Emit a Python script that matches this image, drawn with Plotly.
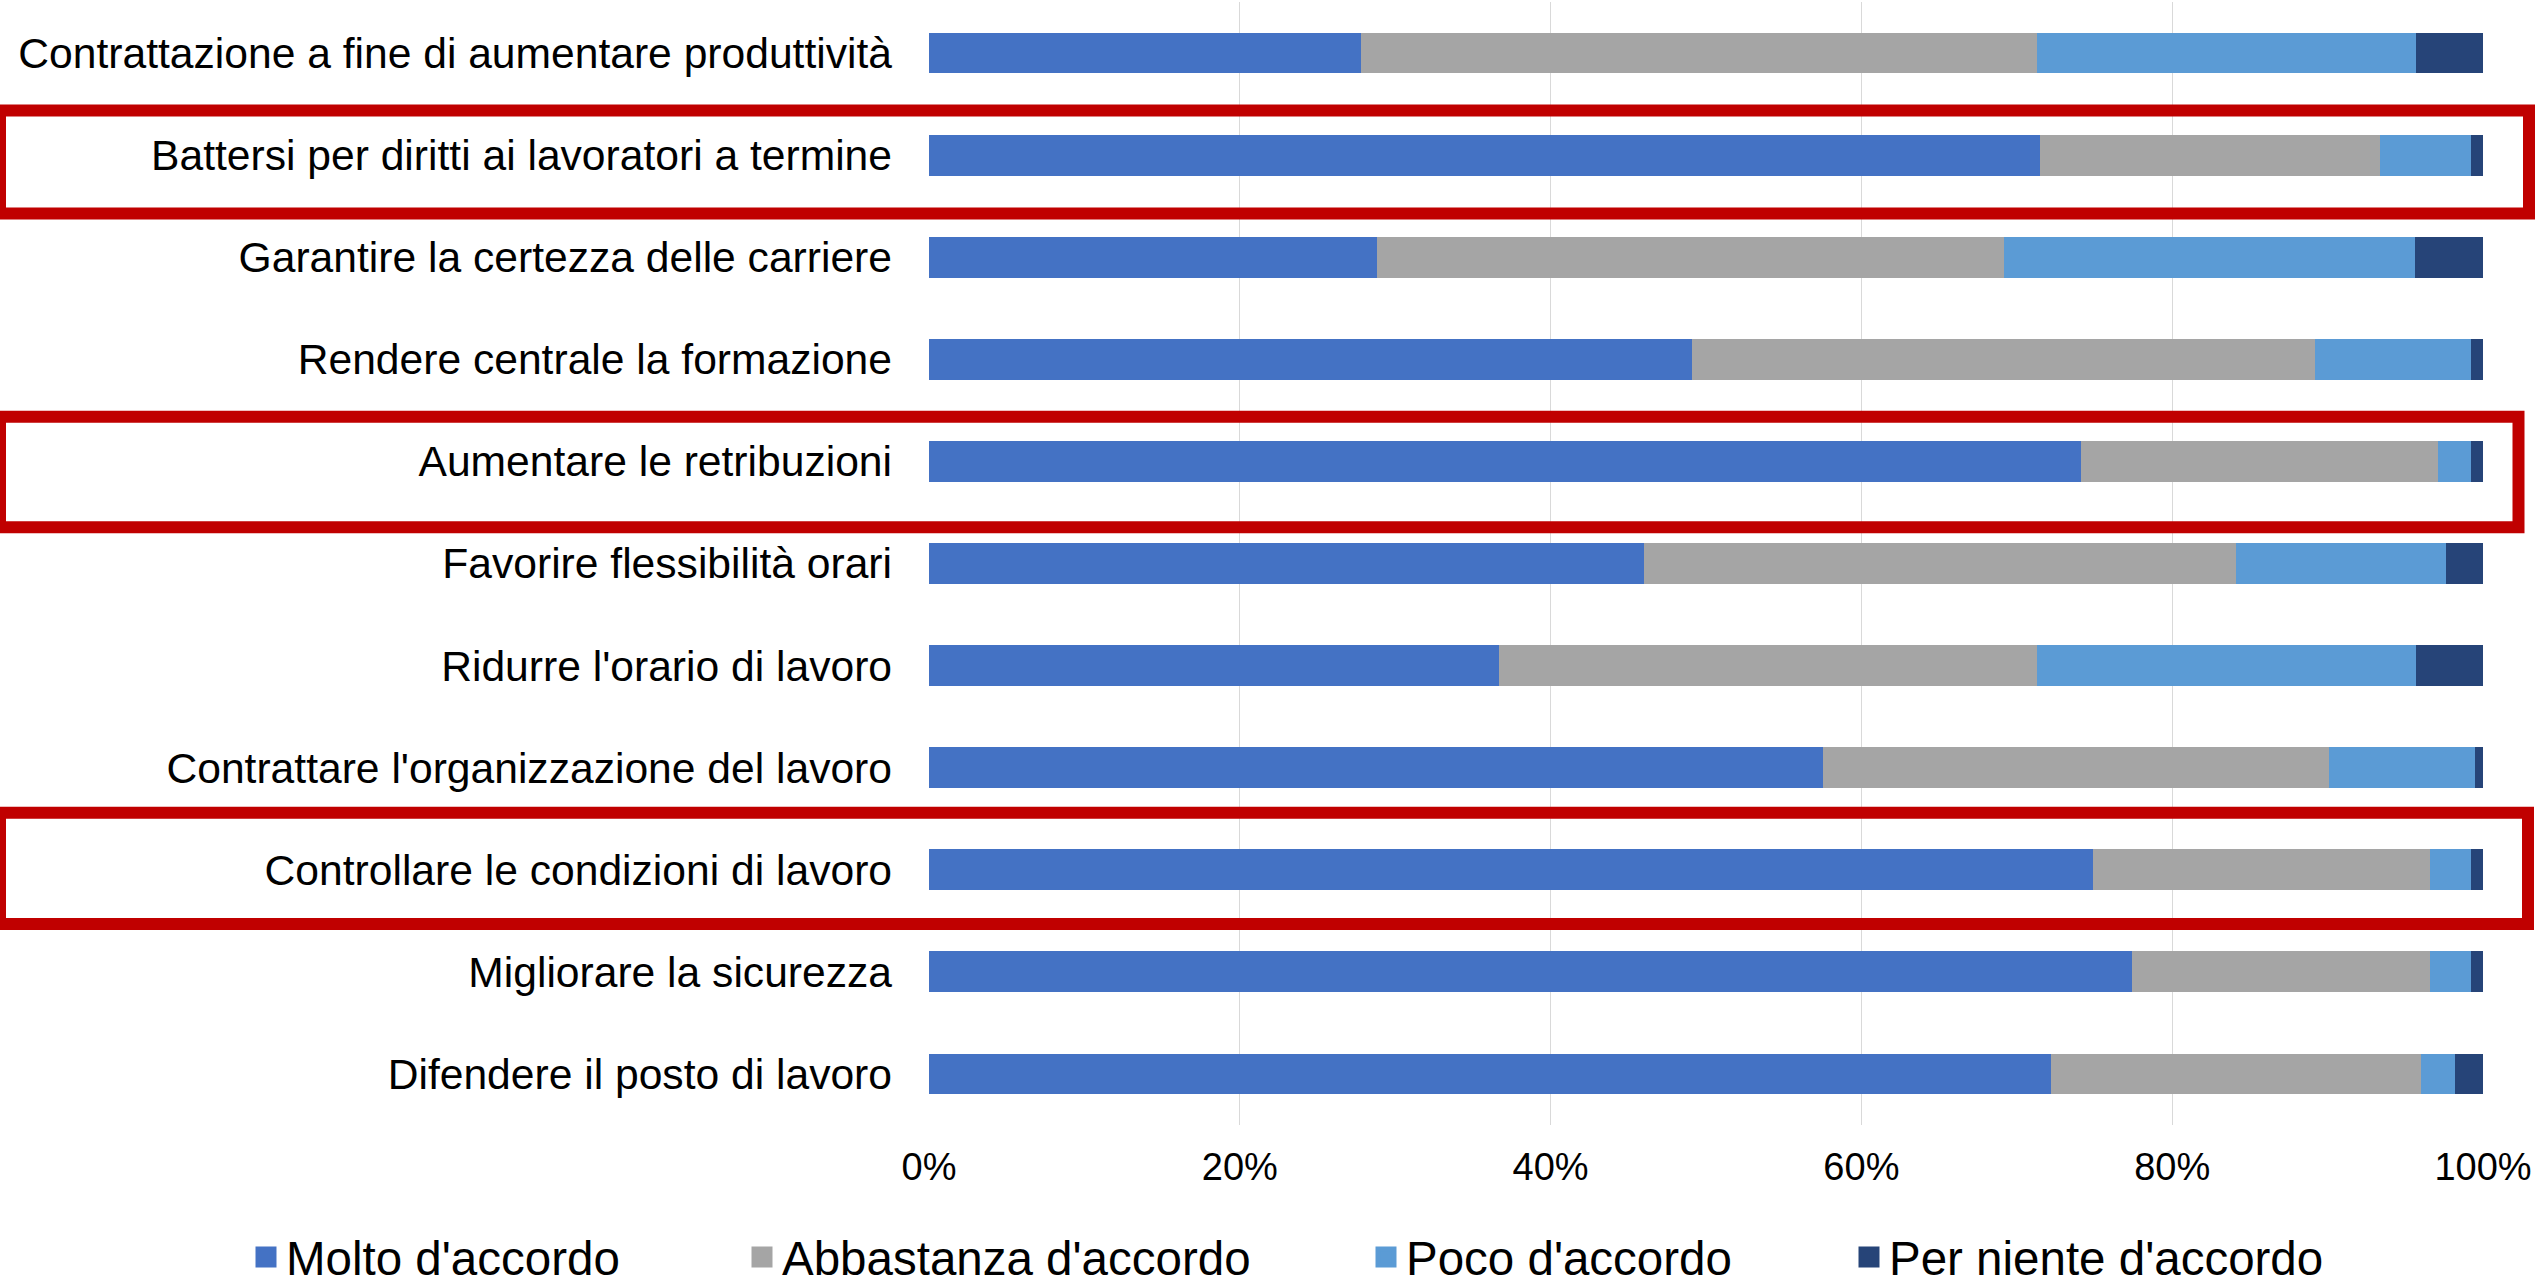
import plotly.graph_objects as go

categories = [
    "Contrattazione a fine di aumentare produttività",
    "Battersi per diritti ai lavoratori a termine",
    "Garantire la certezza delle carriere",
    "Rendere centrale la formazione",
    "Aumentare le retribuzioni",
    "Favorire flessibilità orari",
    "Ridurre l'orario di lavoro",
    "Contrattare l'organizzazione del lavoro",
    "Controllare le condizioni di lavoro",
    "Migliorare la sicurezza",
    "Difendere il posto di lavoro",
]
molto = [27.8, 71.5, 28.8, 49.1, 74.1, 46.0, 36.7, 57.5, 74.9, 77.4, 72.2]
abbastanza = [43.5, 21.9, 40.4, 40.1, 23.0, 38.1, 34.6, 32.6, 21.7, 19.2, 23.8]
poco = [24.4, 5.8, 26.4, 10.0, 2.1, 13.5, 24.4, 9.4, 2.6, 2.6, 2.2]
per_niente = [4.3, 0.8, 4.4, 0.8, 0.8, 2.4, 4.3, 0.5, 0.8, 0.8, 1.8]

series_names = ["Molto d'accordo", "Abbastanza d'accordo", "Poco d'accordo", "Per niente d'accordo"]
series_values = [molto, abbastanza, poco, per_niente]
colors = ["#4472C4", "#A5A5A5", "#5B9BD5", "#264478"]

highlighted = ["Battersi per diritti ai lavoratori a termine",
               "Aumentare le retribuzioni",
               "Controllare le condizioni di lavoro"]

W, H = 2542, 1280
ML, MR, MT, MB = 929, 59, 2, 155
FONT = "Liberation Sans, Arial, sans-serif"

fig = go.Figure()
for name, vals, col in zip(series_names, series_values, colors):
    fig.add_trace(go.Bar(
        y=categories, x=vals, name=name, orientation="h",
        marker=dict(color=col, line=dict(width=0)),
        showlegend=False, hoverinfo="x+y+name",
    ))

legend_x_px = [246, 742, 1366, 1849]
legend_keys = ["legend", "legend2", "legend3", "legend4"]
for name, col, key in zip(series_names, colors, legend_keys):
    fig.add_trace(go.Scatter(
        x=[None], y=[None], mode="markers", name=name,
        marker=dict(symbol="square", size=24, color=col, line=dict(color=col, width=5)),
        legend=key, showlegend=True,
    ))

legend_layouts = {}
for key, px in zip(legend_keys, legend_x_px):
    legend_layouts[key] = dict(
        orientation="h", xref="container", yref="container",
        x=px / W, y=1 - 1257 / H, xanchor="left", yanchor="middle",
        font=dict(family=FONT, size=47.5, color="#000000"),
        bgcolor="rgba(0,0,0,0)", borderwidth=0,
    )

plot_w = W - ML - MR
shapes = []
box_specs = {  # (y offset top, y offset bottom, right edge px)
    "Battersi per diritti ai lavoratori a termine": (-0.437, 0.572, 2529),
    "Aumentare le retribuzioni": (-0.438, 0.644, 2518.5),
    "Controllare le condizioni di lavoro": (-0.558, 0.53, 2528),
}
for cat in highlighted:
    idx = categories.index(cat)
    t, b, rpx = box_specs[cat]
    shapes.append(dict(
        type="rect", xref="paper", yref="y",
        x0=(0 - ML) / plot_w, x1=(rpx - ML) / plot_w,
        y0=idx + t, y1=idx + b,
        line=dict(color="#C00000", width=12), fillcolor="rgba(0,0,0,0)",
        layer="above",
    ))

fig.update_layout(
    width=W, height=H,
    margin=dict(l=ML, r=MR, t=MT, b=MB, pad=0),
    barmode="stack", bargap=0.6,
    plot_bgcolor="white", paper_bgcolor="white",
    font=dict(family=FONT, color="#000000"),
    xaxis=dict(
        range=[0, 100], dtick=20, tick0=0, ticksuffix="%",
        showgrid=True, gridcolor="#D9D9D9", gridwidth=1.3,
        zeroline=False, showline=False, ticks="",
        tickfont=dict(family=FONT, size=38, color="#000000"),
        ticklabelstandoff=16, fixedrange=True,
    ),
    yaxis=dict(
        autorange="reversed", showgrid=False, zeroline=False, showline=False,
        ticks="", tickfont=dict(family=FONT, size=42.6, color="#000000"),
        ticklabelstandoff=36, fixedrange=True,
    ),
    shapes=shapes,
    **legend_layouts,
)

fig.write_html("out.html", config={"displayModeBar": False},
               post_script="document.body.style.margin='0';")
